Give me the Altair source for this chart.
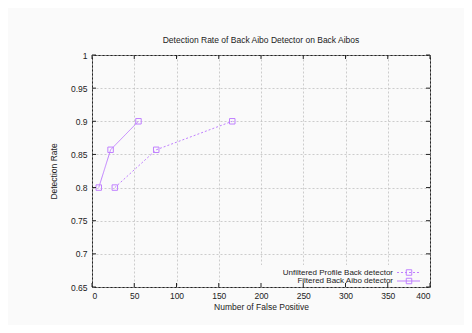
import altair as alt
import pandas as pd

# Data
filt_x = [8, 22, 55]
filt_y = [0.8, 0.857, 0.9]
unf_x = [27, 76, 166]
unf_y = [0.8, 0.857, 0.9]
series_names = ["Unfiltered Profile Back detector", "Filtered Back Aibo detector"]
x_ticks = [0, 50, 100, 150, 200, 250, 300, 350, 400]
y_ticks = [0.65, 0.7, 0.75, 0.8, 0.85, 0.9, 0.95, 1.0]

COLOR = "#c080ff"
FONT = "Liberation Sans"
W, H = 338, 232

data = pd.DataFrame({
    "x": unf_x + filt_x,
    "y": unf_y + filt_y,
    "s": [series_names[0]] * len(unf_x) + [series_names[1]] * len(filt_x),
})
xt_df = pd.DataFrame({"v": x_ticks})
yt_df = pd.DataFrame({"v": y_ticks})
one = pd.DataFrame({"a": [0]})

xs = alt.Scale(domain=[0, 400], nice=False)
ys = alt.Scale(domain=[0.65, 1.0], nice=False, zero=False)

x_axis = alt.Axis(values=x_ticks, grid=True, gridDash=[2, 2], gridColor="#b8b8b8",
                  gridWidth=0.7, ticks=False, domain=False, labelFont=FONT,
                  labelFontSize=8.5, labelColor="#222", labelPadding=4, labelOverlap=False,
                  title="Number of False Positive", titleFont=FONT, titleFontSize=8.5,
                  titleFontWeight="normal", titleColor="#222", titlePadding=3)
y_axis = alt.Axis(values=y_ticks, grid=True, gridDash=[2, 2], gridColor="#b8b8b8",
                  gridWidth=0.7, ticks=False, domain=False, format="~g", labelFont=FONT,
                  labelFontSize=8.5, labelColor="#222", labelPadding=5, labelOverlap=False,
                  labelBound=False, labelFlush=False,
                  title="Detection Rate", titleFont=FONT, titleFontSize=8.5,
                  titleFontWeight="normal", titleColor="#222", titlePadding=12)

X = alt.X("x:Q", scale=xs, axis=x_axis)
Y = alt.Y("y:Q", scale=ys, axis=y_axis)

lines = alt.Chart(data).mark_line(strokeWidth=1).encode(
    x=X, y=Y,
    color=alt.Color("s:N", scale=alt.Scale(domain=series_names, range=[COLOR, COLOR]), legend=None),
    strokeDash=alt.StrokeDash("s:N", scale=alt.Scale(domain=series_names, range=[[2, 2], [1, 0]]), legend=None),
)
points = alt.Chart(data).mark_point(shape="square", filled=False, size=30, strokeWidth=1,
                                    color=COLOR, opacity=1).encode(x=X, y=Y)

# legend background box (hides grid lines)
legend_bg = alt.Chart(one).mark_rect(fill="#fafafa").encode(
    x=alt.value(165), x2=alt.value(W - 1), y=alt.value(210), y2=alt.value(H - 1))

# inward ticks on all four sides
XT = alt.X("v:Q", scale=xs, axis=x_axis)
YT = alt.Y("v:Q", scale=ys, axis=y_axis)
xt_bot = alt.Chart(xt_df).mark_rule(color="#222").encode(x=XT, y=alt.value(H), y2=alt.value(H - 4))
xt_top = alt.Chart(xt_df).mark_rule(color="#222").encode(x=XT, y=alt.value(0), y2=alt.value(4))
yt_left = alt.Chart(yt_df).mark_rule(color="#222").encode(y=YT, x=alt.value(0), x2=alt.value(4))
yt_right = alt.Chart(yt_df).mark_rule(color="#222").encode(y=YT, x=alt.value(W), x2=alt.value(W - 4))

# manual legend (label left of sample, gnuplot style)
rows = [(series_names[0], 217.5, [2, 2]), (series_names[1], 226, None)]
legend_layers = []
for name, yy, dash in rows:
    legend_layers.append(alt.Chart(one).mark_text(
        align="right", baseline="middle", font=FONT, fontSize=8, color="#222"
    ).encode(x=alt.value(301), y=alt.value(yy), text=alt.value(name)))
    rule_kw = dict(color=COLOR, strokeWidth=1)
    if dash:
        rule_kw["strokeDash"] = dash
    legend_layers.append(alt.Chart(one).mark_rule(**rule_kw).encode(
        x=alt.value(305), x2=alt.value(328), y=alt.value(yy)))
    legend_layers.append(alt.Chart(one).mark_point(
        shape="square", filled=False, color=COLOR, size=30, strokeWidth=1, opacity=1
    ).encode(x=alt.value(317), y=alt.value(yy)))

chart = alt.layer(
    lines, points, legend_bg, xt_bot, xt_top, yt_left, yt_right, *legend_layers
).properties(
    width=W, height=H,
    title=alt.TitleParams("Detection Rate of Back Aibo Detector on Back Aibos",
                          font=FONT, fontSize=8.5, fontWeight="normal", color="#222", offset=7),
    autosize=alt.AutoSizeParams(type="none"),
    padding={"left": 84, "top": 47, "right": 34, "bottom": 38},
    background="#fafafa",
).configure_view(stroke="#222", strokeWidth=1)

chart.save("out.html", embed_options={"renderer": "svg", "actions": False})
